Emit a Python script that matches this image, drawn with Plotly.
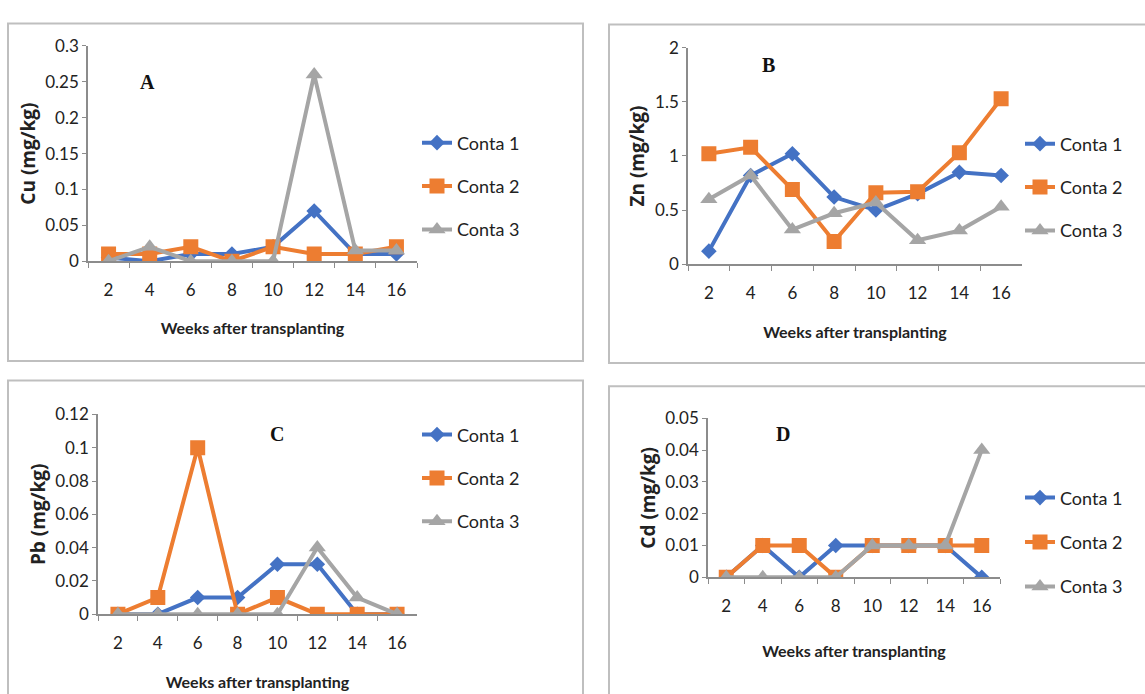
import plotly.graph_objects as go

# ---------------- data ----------------
weeks = ["2", "4", "6", "8", "10", "12", "14", "16"]
series_names = ["Conta 1", "Conta 2", "Conta 3"]

cu_conta1 = [0.005, 0.0, 0.01, 0.01, 0.02, 0.07, 0.01, 0.01]
cu_conta2 = [0.01, 0.01, 0.02, 0.0, 0.02, 0.01, 0.01, 0.02]
cu_conta3 = [0.0, 0.02, 0.0, 0.0, 0.0, 0.26, 0.015, 0.015]

zn_conta1 = [0.12, 0.82, 1.02, 0.62, 0.50, 0.65, 0.85, 0.82]
zn_conta2 = [1.02, 1.08, 0.69, 0.21, 0.66, 0.67, 1.03, 1.53]
zn_conta3 = [0.60, 0.82, 0.32, 0.47, 0.57, 0.22, 0.31, 0.53]

pb_conta1 = [0.0, 0.0, 0.01, 0.01, 0.03, 0.03, 0.0, 0.0]
pb_conta2 = [0.0, 0.01, 0.10, 0.0, 0.01, 0.0, 0.0, 0.0]
pb_conta3 = [0.0, 0.0, 0.0, 0.0, 0.0, 0.04, 0.01, 0.0]

cd_conta1 = [0.0, 0.01, 0.0, 0.01, 0.01, 0.01, 0.01, 0.0]
cd_conta2 = [0.0, 0.01, 0.01, 0.0, 0.01, 0.01, 0.01, 0.01]
cd_conta3 = [0.0, 0.0, 0.0, 0.0, 0.01, 0.01, 0.01, 0.04]

panel_letters = ["A", "B", "C", "D"]
y_titles = ["Cu (mg/kg)", "Zn (mg/kg)", "Pb (mg/kg)", "Cd (mg/kg)"]
y_ranges = [[0, 0.3], [0, 2], [0, 0.12], [0, 0.05]]
y_dticks = [0.05, 0.5, 0.02, 0.01]
x_title = "Weeks after transplanting"

panel_data = [
    [cu_conta1, cu_conta2, cu_conta3],
    [zn_conta1, zn_conta2, zn_conta3],
    [pb_conta1, pb_conta2, pb_conta3],
    [cd_conta1, cd_conta2, cd_conta3],
]

# ---------------- styles ----------------
W, H = 1145, 694
colors = ["#4472C4", "#ED7D31", "#A5A5A5"]
symbols = ["diamond", "square", "triangle-up"]
msizes = [12, 15, 15]
axis_color = "#8C8C8C"
FONT = "Lato, Liberation Sans, sans-serif"


def fx(p):
    return p / W


def fy(p):
    return 1 - p / H


# pixel geometry per panel
panels = [
    dict(xl=88, xr=417, yt=36, yb=258, leg=(417, 117), gap=17, let=(147, 73),
         box=(8, 13, 583, 361), xstand=23),
    dict(xl=688, xr=1022, yt=38, yb=261, leg=(1020, 118), gap=17, let=(768, 56),
         box=(609, 14, 1160, 363), xstand=25),
    dict(xl=98, xr=417, yt=416, yb=622, leg=(417, 418), gap=17, let=(277, 436),
         box=(8, 381, 583, 710), xstand=24),
    dict(xl=708, xr=1000, yt=420, yb=584, leg=(1020, 483), gap=18, let=(783, 436),
         box=(609, 387, 1160, 710), xstand=30),
]

fig = go.Figure()
layout = dict(
    width=W, height=H,
    margin=dict(l=0, r=0, t=0, b=0),
    paper_bgcolor="white", plot_bgcolor="white",
    font=dict(family=FONT, size=16, color="#222222"),
    shapes=[], annotations=[],
)

for i, p in enumerate(panels):
    n = "" if i == 0 else str(i + 1)
    leg_name = "legend" + n
    for k in range(3):
        fig.add_trace(go.Scatter(
            x=weeks, y=panel_data[i][k], name=series_names[k],
            mode="lines+markers",
            line=dict(color=colors[k], width=4),
            marker=dict(symbol=symbols[k], size=msizes[k], color=colors[k]),
            xaxis="x" + n, yaxis="y" + n,
            legend=leg_name, legendgroup=f"g{i}{k}",
        ))
    layout["xaxis" + n] = dict(
        domain=[fx(p["xl"]), fx(p["xr"])], anchor="y" + n,
        type="category", range=[-0.5, 7.5], tickson="boundaries",
        ticks="outside", ticklen=5, tickcolor=axis_color,
        showline=True, linecolor=axis_color, linewidth=1.5,
        showgrid=False, zeroline=False,
        tickfont=dict(size=17, color="#222222"),
        ticklabelstandoff=13,
        title=dict(text=f"<b>{x_title}</b>", font=dict(size=16),
                   standoff=p["xstand"]),
    )
    layout["yaxis" + n] = dict(
        domain=[fy(p["yb"]), fy(p["yt"])], anchor="x" + n,
        range=y_ranges[i], dtick=y_dticks[i],
        ticks="outside", ticklen=4, tickcolor=axis_color,
        showline=True, linecolor=axis_color, linewidth=1.5,
        showgrid=False, zeroline=False,
        tickfont=dict(size=17, color="#222222"),
        title=dict(text=f"<b>{y_titles[i]}</b>",
                   font=dict(size=19, family="Open Sans, DejaVu Sans, sans-serif"),
                   standoff=5),
    )
    layout[leg_name] = dict(
        x=fx(p["leg"][0]), y=fy(p["leg"][1]), xanchor="left", yanchor="top",
        bgcolor="rgba(0,0,0,0)", font=dict(size=18, color="#222222"),
        tracegroupgap=p["gap"], itemwidth=30,
    )
    bx = p["box"]
    layout["shapes"].append(dict(
        type="rect", xref="paper", yref="paper",
        x0=fx(bx[0]), x1=fx(bx[2]), y0=fy(bx[3]), y1=fy(bx[1]),
        line=dict(color="#BFBFBF", width=2), fillcolor="rgba(0,0,0,0)",
        layer="below",
    ))
    layout["annotations"].append(dict(
        text=f"<b>{panel_letters[i]}</b>", xref="paper", yref="paper",
        x=fx(p["let"][0]), y=fy(p["let"][1]), xanchor="center", yanchor="middle",
        showarrow=False,
        font=dict(family="Liberation Serif, Times New Roman, serif", size=20,
                  color="#111111"),
    ))

fig.update_layout(**layout)
fig.write_html("out.html")
